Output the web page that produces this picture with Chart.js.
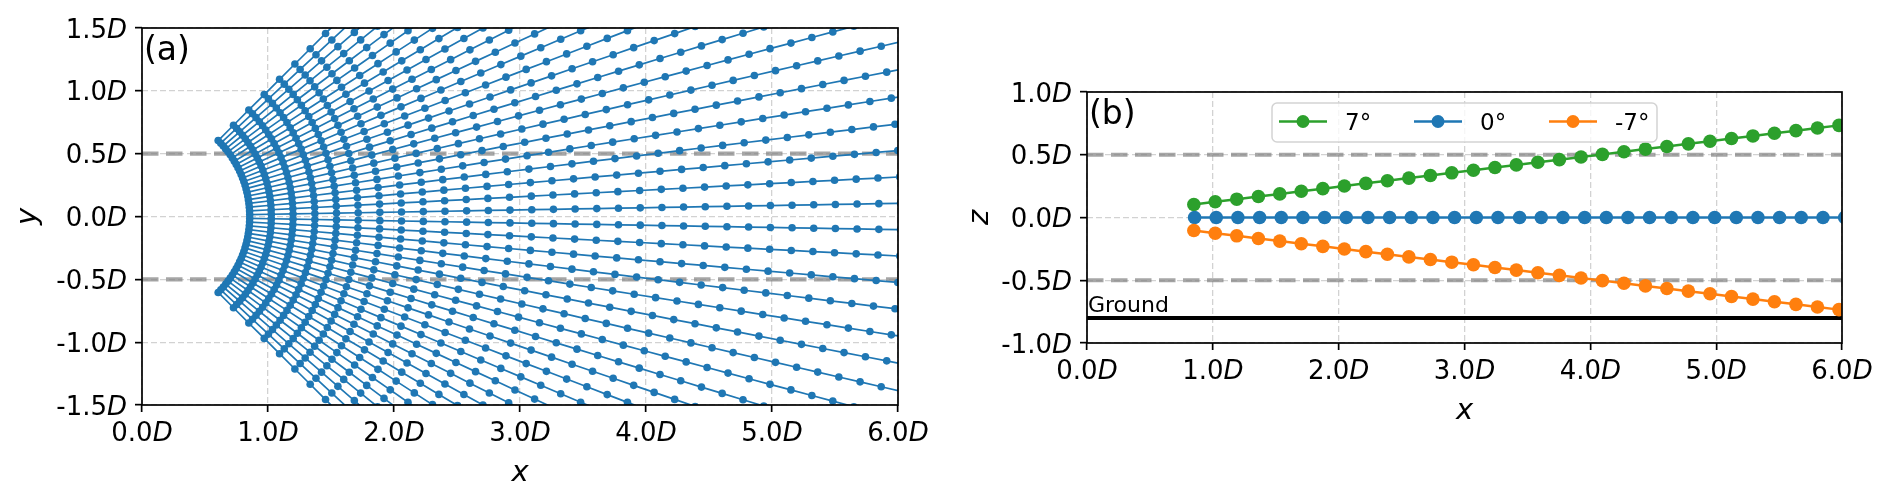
<!DOCTYPE html>
<html><head><meta charset="utf-8">
<script src="https://cdn.jsdelivr.net/npm/chart.js@4.4.0/dist/chart.umd.min.js"></script>
<style>
html,body{margin:0;padding:0;background:#fff;width:1892px;height:500px;overflow:hidden;}
canvas{position:absolute;top:0;}
#ca{left:0;} #cb{left:960px;}
</style></head><body>
<canvas id="ca" width="960" height="500"></canvas>
<canvas id="cb" width="932" height="500"></canvas>
<script>
// ---------- data ----------
// panel (a): radial distance of the sample points along every ray, and ray angles (degrees)
const radii = [0.855,1.027,1.199,1.372,1.544,1.716,1.888,2.060,2.233,2.405,2.577,2.749,2.921,3.094,3.266,3.438,3.610,3.782,3.955,4.127,4.299,4.471,4.643,4.815,4.988,5.160,5.332,5.504,5.676,5.849,6.021,6.193,6.365];
const rayAnglesDeg = [-45,-43,-41,-39,-37,-35,-33,-31,-29,-27,-25,-23,-21,-19,-17,-15,-13,-11,-9,-7,-5,-3,-1,1,3,5,7,9,11,13,15,17,19,21,23,25,27,29,31,33,35,37,39,41,43,45];
const guideLevels = [0.5, -0.5];
const groundLevel = -0.8;

// panel (b): series
const seriesNames = ['7°', '0°', '-7°'];
const seriesColors = ['#2ca02c', '#1f77b4', '#ff7f0e'];
const xUp7   = [0.849,1.019,1.190,1.362,1.532,1.703,1.874,2.045,2.216,2.387,2.558,2.729,2.899,3.071,3.242,3.412,3.583,3.754,3.926,4.096,4.267,4.438,4.608,4.779,4.951,5.122,5.292,5.463,5.634,5.805,5.976,6.147];
const zUp7   = [0.104,0.125,0.146,0.167,0.188,0.209,0.230,0.251,0.272,0.293,0.314,0.335,0.356,0.377,0.398,0.419,0.440,0.461,0.482,0.503,0.524,0.545,0.566,0.587,0.608,0.629,0.650,0.671,0.692,0.713,0.734,0.755];
const xLevel = [0.855,1.027,1.199,1.372,1.544,1.716,1.888,2.060,2.233,2.405,2.577,2.749,2.921,3.094,3.266,3.438,3.610,3.782,3.955,4.127,4.299,4.471,4.643,4.815,4.988,5.160,5.332,5.504,5.676,5.849,6.021,6.193];
const zLevel = [0,0,0,0,0,0,0,0,0,0,0,0,0,0,0,0,0,0,0,0,0,0,0,0,0,0,0,0,0,0,0,0];
const xDown7 = [0.849,1.019,1.190,1.362,1.532,1.703,1.874,2.045,2.216,2.387,2.558,2.729,2.899,3.071,3.242,3.412,3.583,3.754,3.926,4.096,4.267,4.438,4.608,4.779,4.951,5.122,5.292,5.463,5.634,5.805,5.976,6.147];
const zDown7 = [-0.104,-0.125,-0.146,-0.167,-0.188,-0.209,-0.230,-0.251,-0.272,-0.293,-0.314,-0.335,-0.356,-0.377,-0.398,-0.419,-0.440,-0.461,-0.482,-0.503,-0.524,-0.545,-0.566,-0.587,-0.608,-0.629,-0.650,-0.671,-0.692,-0.713,-0.734,-0.755];

// ticks
const xTickValues = [0, 1, 2, 3, 4, 5, 6];
const xTickLabels = ['0.0D', '1.0D', '2.0D', '3.0D', '4.0D', '5.0D', '6.0D'];
const yTickValuesA = [-1.5, -1.0, -0.5, 0.0, 0.5, 1.0, 1.5];
const yTickLabelsA = ['-1.5D', '-1.0D', '-0.5D', '0.0D', '0.5D', '1.0D', '1.5D'];
const yTickValuesB = [-1.0, -0.5, 0.0, 0.5, 1.0];
const yTickLabelsB = ['-1.0D', '-0.5D', '0.0D', '0.5D', '1.0D'];

// ---------- helpers ----------
const FONT = '"DejaVu Sans", "Noto Sans", sans-serif';
function drawUnitLabel(ctx, label, x, y, align, size) {
  const num = label.slice(0, -1), unit = label.slice(-1);
  ctx.font = size + 'px ' + FONT;
  const w1 = ctx.measureText(num).width;
  ctx.font = 'italic ' + size + 'px ' + FONT;
  const w2 = ctx.measureText(unit).width;
  let x0 = align === 'right' ? x - w1 - w2 : (align === 'center' ? x - (w1 + w2) / 2 : x);
  ctx.textAlign = 'left';
  ctx.font = size + 'px ' + FONT;
  ctx.fillText(num, x0, y);
  ctx.font = 'italic ' + size + 'px ' + FONT;
  ctx.fillText(unit, x0 + w1, y);
}

const decor = {
  id: 'decor',
  afterDraw(chart, args, o) {
    const ctx = chart.ctx, a = chart.chartArea, xs = chart.scales.x, ys = chart.scales.y;
    ctx.save();
    ctx.strokeStyle = '#000'; ctx.lineWidth = 1.7;
    ctx.strokeRect(a.left, a.top, a.right - a.left, a.bottom - a.top);
    ctx.fillStyle = '#000'; ctx.textBaseline = 'alphabetic';
    o.xTicks.forEach((v, i) => drawUnitLabel(ctx, o.xLabels[i], xs.getPixelForValue(v), a.bottom + 36, 'center', 26));
    o.yTicks.forEach((v, i) => drawUnitLabel(ctx, o.yLabels[i], a.left - 15, ys.getPixelForValue(v) + 9.5, 'right', 26));
    ctx.font = 'italic 29px ' + FONT; ctx.textAlign = 'center';
    ctx.fillText(o.xTitle, (a.left + a.right) / 2, a.bottom + 75.5);
    ctx.save();
    ctx.translate(a.left - o.yTitleOffset, (a.top + a.bottom) / 2);
    ctx.rotate(-Math.PI / 2);
    ctx.fillText(o.yTitle, 0, 0);
    ctx.restore();
    ctx.font = '33px ' + FONT; ctx.textAlign = 'left';
    ctx.fillText(o.panel, a.left + 2, a.top + 32);
    if (o.ground) {
      ctx.font = '22px ' + FONT;
      ctx.fillText(o.ground, xs.getPixelForValue(0) + 1, ys.getPixelForValue(groundLevel) - 6);
    }
    if (o.legend) {
      const L = a.left + 185, T = a.top + 11, W = 385, H = 39, R = 5;
      ctx.beginPath();
      ctx.moveTo(L + R, T); ctx.lineTo(L + W - R, T); ctx.arcTo(L + W, T, L + W, T + R, R);
      ctx.lineTo(L + W, T + H - R); ctx.arcTo(L + W, T + H, L + W - R, T + H, R);
      ctx.lineTo(L + R, T + H); ctx.arcTo(L, T + H, L, T + H - R, R);
      ctx.lineTo(L, T + R); ctx.arcTo(L, T, L + R, T, R); ctx.closePath();
      ctx.fillStyle = 'rgba(255,255,255,0.8)'; ctx.fill();
      ctx.strokeStyle = '#d3d3d3'; ctx.lineWidth = 1.5; ctx.stroke();
      const cy = T + 18.5;
      seriesNames.forEach((name, i) => {
        const hx = L + 7 + i * 135;
        ctx.strokeStyle = seriesColors[i]; ctx.lineWidth = 2.5;
        ctx.beginPath(); ctx.moveTo(hx, cy); ctx.lineTo(hx + 48, cy); ctx.stroke();
        ctx.fillStyle = seriesColors[i];
        ctx.beginPath(); ctx.arc(hx + 24, cy, 6.5, 0, Math.PI * 2); ctx.fill();
        ctx.fillStyle = '#000'; ctx.font = '23px ' + FONT; ctx.textAlign = 'left';
        ctx.fillText(name, hx + 66, cy + 8.3);
      });
    }
    ctx.restore();
  }
};

function axisCfg(min, max, ticks, fitProp, fitVal) {
  return {
    type: 'linear', min: min, max: max,
    afterBuildTicks: s => { s.ticks = ticks.map(v => ({ value: v })); },
    ticks: { display: false },
    grid: { color: '#d2d2d2', lineWidth: 1.3, drawTicks: true, tickLength: 7, tickColor: '#000', tickWidth: 1.7, tickBorderDash: [] },
    border: { display: false, dash: [6, 3] },
    afterFit: s => { s[fitProp] = fitVal; }
  };
}

// ---------- panel (a) ----------
const dsA = [];
rayAnglesDeg.forEach(deg => {
  const t = deg * Math.PI / 180;
  dsA.push({
    data: radii.map(r => ({ x: r * Math.cos(t), y: r * Math.sin(t) })),
    showLine: true, borderColor: '#1f77b4', backgroundColor: '#1f77b4',
    borderWidth: 1.7, pointRadius: 3.8, pointBorderWidth: 0, clip: 0, order: 1
  });
});
guideLevels.forEach(g => dsA.push({
  data: [{ x: xTickValues[0], y: g }, { x: xTickValues[xTickValues.length - 1], y: g }],
  showLine: true, borderColor: 'rgba(128,128,128,0.7)', borderWidth: 4.2, borderDash: [16.5, 7.5],
  pointRadius: 0, clip: 0, order: 2
}));

new Chart(document.getElementById('ca'), {
  type: 'scatter',
  data: { datasets: dsA },
  options: {
    responsive: false, animation: false, devicePixelRatio: 1, events: [],
    layout: { padding: { top: 28, right: 62, left: 0, bottom: 0 } },
    plugins: {
      legend: { display: false }, tooltip: { enabled: false },
      decor: { xTicks: xTickValues, xLabels: xTickLabels, yTicks: yTickValuesA, yLabels: yTickLabelsA,
               xTitle: 'x', yTitle: 'y', yTitleOffset: 106, panel: '(a)' }
    },
    scales: {
      x: axisCfg(0, 6, xTickValues, 'height', 95),
      y: axisCfg(-1.5, 1.5, yTickValuesA, 'width', 142)
    }
  },
  plugins: [decor]
});

// ---------- panel (b) ----------
const seriesX = [xUp7, xLevel, xDown7];
const seriesZ = [zUp7, zLevel, zDown7];
const dsB = seriesNames.map((name, i) => ({
  label: name,
  data: seriesX[i].map((xv, k) => ({ x: xv, y: seriesZ[i][k] })),
  showLine: true, borderColor: seriesColors[i], backgroundColor: seriesColors[i],
  borderWidth: 2.5, pointRadius: 6.8, pointBorderWidth: 0, clip: 0, order: 3 - i
}));
guideLevels.forEach(g => dsB.push({
  data: [{ x: 0, y: g }, { x: 6, y: g }],
  showLine: true, borderColor: 'rgba(128,128,128,0.7)', borderWidth: 4.2, borderDash: [16.5, 7.5],
  pointRadius: 0, clip: 0, order: 5
}));
dsB.push({
  data: [{ x: 0, y: groundLevel }, { x: 6, y: groundLevel }],
  showLine: true, borderColor: '#000', borderWidth: 4, pointRadius: 0, clip: 0, order: 4
});

new Chart(document.getElementById('cb'), {
  type: 'scatter',
  data: { datasets: dsB },
  options: {
    responsive: false, animation: false, devicePixelRatio: 1, events: [],
    layout: { padding: { top: 92, right: 50, left: 0, bottom: 0 } },
    plugins: {
      legend: { display: false }, tooltip: { enabled: false },
      decor: { xTicks: xTickValues, xLabels: xTickLabels, yTicks: yTickValuesB, yLabels: yTickLabelsB,
               xTitle: 'x', yTitle: 'z', yTitleOffset: 99, panel: '(b)', ground: 'Ground', legend: true }
    },
    scales: {
      x: axisCfg(0, 6, xTickValues, 'height', 157),
      y: axisCfg(-1, 1, yTickValuesB, 'width', 127)
    }
  },
  plugins: [decor]
});
</script>
</body></html>
